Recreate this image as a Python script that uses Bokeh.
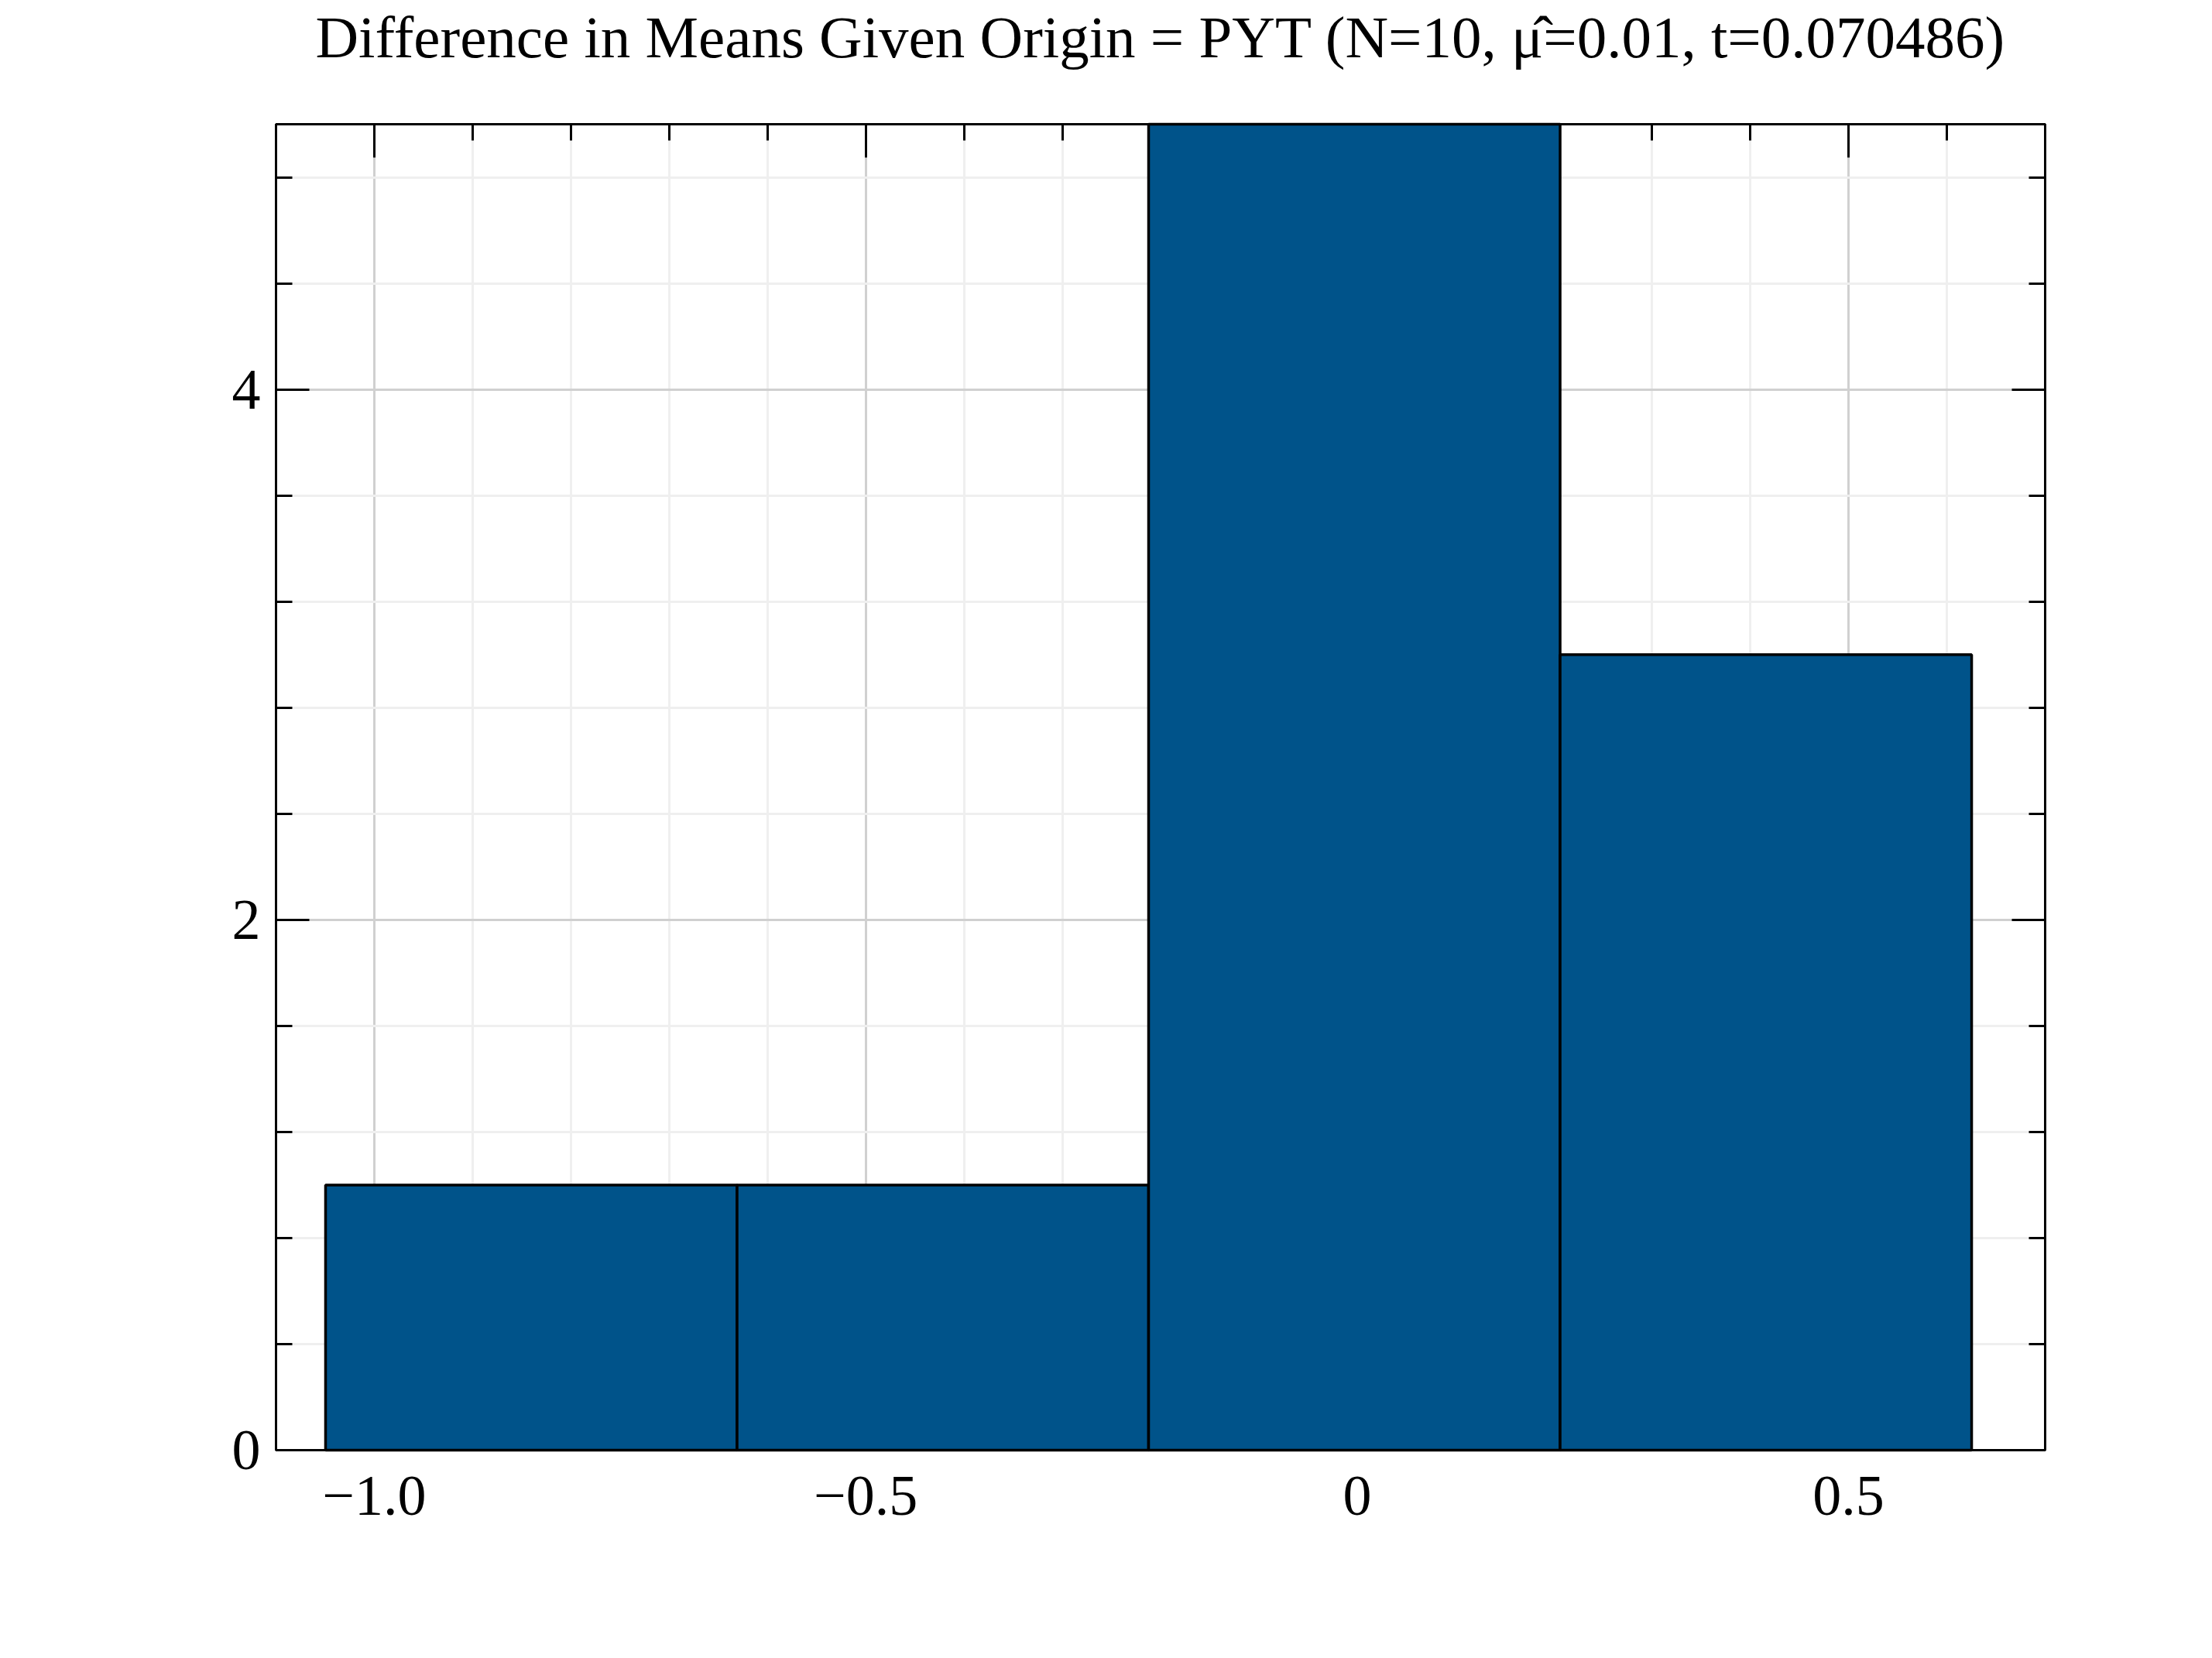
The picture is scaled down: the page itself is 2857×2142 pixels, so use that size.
from bokeh.plotting import figure
from bokeh.models import LinearAxis, SingleIntervalTicker, CustomJSTickFormatter, Range1d
from bokeh.embed import file_html
from bokeh.resources import INLINE

# Histogram data
bin_edges = [-1.0496, -0.6309, -0.2122, 0.2065, 0.6252]
counts = [1, 1, 5, 3]
x_tick_interval = 0.5
y_tick_interval = 2
title_text = "Difference in Means Given Origin = PYT (N=10, \u03bc\u0302=0.01, t=0.070486)"

FONT = "Liberation Serif"
BAR_COLOR = "#00538A"

SHIFT = 120  # extra room above, taken back with a negative top margin
X0, X1, Y0, Y1 = -1.1, 0.7, 0, 5
p = figure(width=2841, height=2126 + SHIFT, output_backend="svg", toolbar_location=None,
           x_range=Range1d(X0, X1), y_range=Range1d(Y0, Y1),
           min_border_left=356, min_border_right=200,
           min_border_top=160 + SHIFT, min_border_bottom=253,
           x_axis_location=None, y_axis_location=None,
           margin=(-SHIFT, 0, 0, 0))

p.title.text = title_text
p.title.align = "center"
p.title.text_font = FONT
p.title.text_font_size = "77px"
p.title.text_font_style = "normal"
p.title.text_color = "black"
p.title.standoff = 140

p.outline_line_color = "black"
p.outline_line_width = 3
p.background_fill_color = "white"
p.border_fill_color = "white"

p.quad(left=bin_edges[:-1], right=bin_edges[1:], bottom=[0] * len(counts), top=counts,
       fill_color=BAR_COLOR, line_color="black", line_width=3.5, level="annotation")

xfmt = CustomJSTickFormatter(code="""
if (Math.abs(tick) < 1e-9) return "0";
return (tick < 0 ? "\\u2212" : "") + Math.abs(tick).toFixed(1);
""")
yfmt = CustomJSTickFormatter(code="""
return Math.round(tick).toString();
""")


def make_axis(kind, side, labels):
    interval = x_tick_interval if kind == "x" else y_tick_interval
    ax = LinearAxis(ticker=SingleIntervalTicker(interval=interval, num_minor_ticks=5))
    ax.formatter = xfmt if kind == "x" else yfmt
    ax.axis_line_color = "black"
    ax.axis_line_width = 3
    ax.major_tick_line_color = "black"
    ax.major_tick_line_width = 3
    ax.minor_tick_line_color = "black"
    ax.minor_tick_line_width = 3
    ax.major_tick_in = 43
    ax.major_tick_out = 0
    ax.minor_tick_in = 21
    ax.minor_tick_out = 0
    ax.major_label_text_font = FONT
    ax.major_label_text_color = "black"
    if labels:
        ax.major_label_text_font_size = "74px"
        ax.major_label_standoff = 20 if kind == "y" else 34
    else:
        ax.major_label_text_font_size = "0px"
        ax.major_label_text_alpha = 0
        ax.major_label_standoff = 0
    p.add_layout(ax, side)
    return ax


make_axis("x", "below", True)
make_axis("y", "left", True)
make_axis("x", "above", False)
make_axis("y", "right", False)

xt = SingleIntervalTicker(interval=x_tick_interval, num_minor_ticks=5)
yt = SingleIntervalTicker(interval=y_tick_interval, num_minor_ticks=5)
p.xgrid.ticker = xt
p.ygrid.ticker = yt
for g in (p.xgrid, p.ygrid):
    g.grid_line_color = "#d0d0d0"
    g.grid_line_width = 3
    g.minor_grid_line_color = "#efefef"
    g.minor_grid_line_width = 3

open("out.html", "w").write(file_html(p, INLINE))
